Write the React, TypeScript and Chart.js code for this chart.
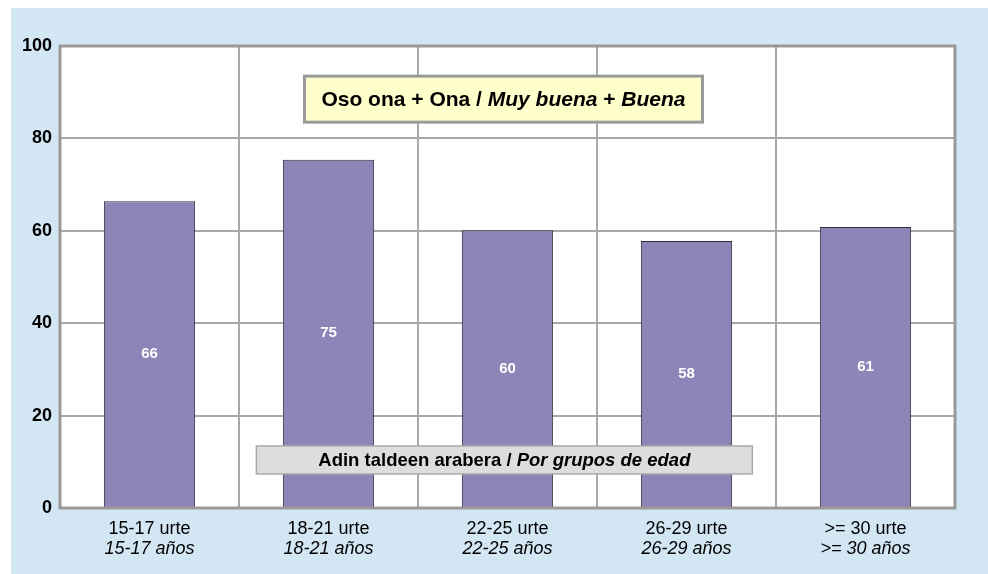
import React, { useEffect, useRef } from "react";
import { Chart, registerables } from "chart.js";

Chart.register(...registerables);

const categoriesEu = ["15-17 urte", "18-21 urte", "22-25 urte", "26-29 urte", ">= 30 urte"];
const categoriesEs = ["15-17 años", "18-21 años", "22-25 años", "26-29 años", ">= 30 años"];
const values = [66.4, 75.4, 60.1, 57.8, 60.8];
const yMin = 0;
const yMax = 100;
const yStep = 20;
const titleParts = [
  { text: "Oso ona + Ona / ", italic: false },
  { text: "Muy buena", italic: true },
  { text: " + ", italic: false },
  { text: "Buena", italic: true },
];
const subtitleParts = [
  { text: "Adin taldeen arabera / ", italic: false },
  { text: "Por grupos de edad", italic: true },
];

const FONT = '"Liberation Sans", Arial, sans-serif';

function drawParts(ctx: CanvasRenderingContext2D, parts: { text: string; italic: boolean }[], cx: number, cy: number, size: number) {
  let total = 0;
  const widths: number[] = [];
  for (const p of parts) {
    ctx.font = `${p.italic ? "italic " : ""}bold ${size}px ${FONT}`;
    const w = ctx.measureText(p.text).width;
    widths.push(w);
    total += w;
  }
  let x = cx - total / 2;
  ctx.textBaseline = "middle";
  ctx.textAlign = "left";
  ctx.fillStyle = "#000";
  parts.forEach((p, i) => {
    ctx.font = `${p.italic ? "italic " : ""}bold ${size}px ${FONT}`;
    ctx.fillText(p.text, x, cy);
    x += widths[i];
  });
}

const plotBgPlugin = {
  id: "plotBg",
  beforeDraw(chart: any) {
    const { ctx, chartArea } = chart;
    ctx.save();
    ctx.fillStyle = "#FFFFFF";
    ctx.fillRect(chartArea.left, chartArea.top, chartArea.right - chartArea.left, chartArea.bottom - chartArea.top);
    ctx.restore();
  },
};

const overlayPlugin = {
  id: "overlay",
  afterDatasetsDraw(chart: any) {
    const { ctx, chartArea } = chart;
    const xs = chart.scales.x;
    const ys = chart.scales.y;
    ctx.save();
    // frame
    ctx.strokeStyle = "#999999";
    ctx.lineWidth = 3;
    ctx.strokeRect(chartArea.left, chartArea.top, chartArea.right - chartArea.left, chartArea.bottom - chartArea.top);

    // value labels
    const meta = chart.getDatasetMeta(0);
    ctx.fillStyle = "#ffffff";
    ctx.font = `bold 15px ${FONT}`;
    ctx.textAlign = "center";
    ctx.textBaseline = "middle";
    meta.data.forEach((bar: any, i: number) => {
      const mid = (bar.y + bar.base) / 2;
      ctx.fillText(String(Math.round(values[i])), bar.x, mid);
    });

    // x labels (two lines)
    ctx.fillStyle = "#000";
    ctx.textBaseline = "alphabetic";
    categoriesEu.forEach((c, i) => {
      const x = xs.getPixelForValue(i);
      ctx.font = `18px ${FONT}`;
      ctx.fillText(c, x, chartArea.bottom + 26);
      ctx.font = `italic 18px ${FONT}`;
      ctx.fillText(categoriesEs[i], x, chartArea.bottom + 46);
    });

    const w = chartArea.right - chartArea.left;
    // title box
    const tcx = chartArea.left + w * 0.4955;
    const tcy = ys.getPixelForValue(88.5);
    ctx.fillStyle = "#FFFFCC";
    ctx.fillRect(tcx - 199, tcy - 23, 398, 46);
    ctx.strokeStyle = "#999999";
    ctx.lineWidth = 3;
    ctx.strokeRect(tcx - 199, tcy - 23, 398, 46);
    drawParts(ctx, titleParts, tcx, tcy + 1, 21);

    // subtitle box
    const scx = chartArea.left + w * 0.4965;
    const scy = ys.getPixelForValue(10.4);
    ctx.fillStyle = "#DDDDDD";
    ctx.fillRect(scx - 248, scy - 14, 496, 28);
    ctx.strokeStyle = "#AAAAAA";
    ctx.lineWidth = 1.5;
    ctx.strokeRect(scx - 248, scy - 14, 496, 28);
    drawParts(ctx, subtitleParts, scx, scy + 1, 18.5);
    ctx.restore();
  },
};

export default function App() {
  const ref = useRef<HTMLCanvasElement | null>(null);
  useEffect(() => {
    if (!ref.current) return;
    const chart = new Chart(ref.current, {
      type: "bar",
      data: {
        labels: categoriesEu,
        datasets: [
          {
            data: values,
            backgroundColor: "#8F84B8",
            borderColor: "#2E2A38",
            borderWidth: 1,
            barPercentage: 0.51,
            categoryPercentage: 1,
          },
        ],
      },
      options: {
        animation: false,
        responsive: false,
        devicePixelRatio: 1,
        layout: { padding: { top: 38, right: 33, left: 0, bottom: 0 } },
        plugins: { legend: { display: false }, tooltip: { enabled: false } },
        scales: {
          x: {
            grid: { color: "#A8A8A8", lineWidth: 2, offset: true, drawTicks: false },
            border: { display: false },
            ticks: { display: false },
            afterFit: (s: any) => {
              s.height = 66;
            },
          },
          y: {
            min: yMin,
            max: yMax,
            grid: { color: "#A8A8A8", lineWidth: 2, drawTicks: false },
            border: { display: false },
            ticks: {
              stepSize: yStep,
              padding: 8,
              color: "#000",
              font: { family: FONT, size: 18, weight: "bold" },
            },
            afterFit: (s: any) => {
              s.width = 49;
            },
          },
        },
      },
      plugins: [plotBgPlugin, overlayPlugin],
    } as any);
    return () => chart.destroy();
  }, []);
  return (
    <div
      style={{
        position: "fixed",
        left: 11,
        top: 8,
        width: 977,
        height: 566,
        background: "#D3E6F4",
      }}
    >
      <canvas ref={ref} width={977} height={566} style={{ display: "block" }} />
    </div>
  );
}
